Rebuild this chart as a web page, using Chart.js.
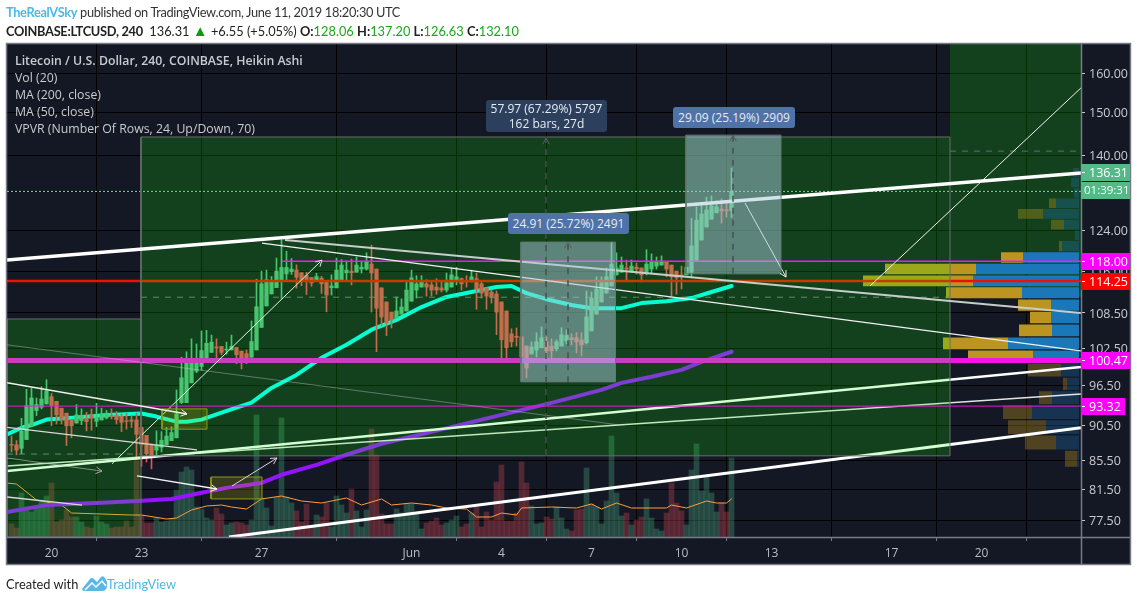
<!DOCTYPE html>
<html>
<head>
<meta charset="utf-8">
<title>LTCUSD</title>
<script src="https://cdn.jsdelivr.net/npm/chart.js@4"></script>
<style>
  html, body { margin: 0; padding: 0; background: #fff; overflow: hidden; }
  body { width: 1137px; height: 601px; position: relative; font-family: "Open Sans", sans-serif; }
  canvas { position: absolute; left: 0; top: 0; }
  .txt { position: absolute; white-space: nowrap; }
  .hd { left: 6px; font-family: Lato, sans-serif; font-size: 12.8px; color: #333; line-height: 18px; }
  .leg { left: 15px; font-size: 12.3px; color: #c8cbd0; line-height: 17px; }
  .tag { color: #e6ebf2; font-size: 12px; text-align: center; border-radius: 3px; line-height: 21px; }
  .g { color: #1aa81a; }
</style>
</head>
<body>
<canvas id="myChart" width="1137" height="601"></canvas>

<div class="txt hd" style="top:3px;letter-spacing:-0.34px"><span style="color:#4db8e8;font-weight:700">TheRealVSky</span> published on TradingView.com, June 11, 2019 18:20:30 UTC</div>
<div class="txt hd" style="top:21px;color:#222"><b style="letter-spacing:-0.3px">COINBASE:LTCUSD, 240</b>&nbsp; 136.31 <span style="color:#0a9a0a;font-size:15px">&#9650;</span> +6.55 (+5.05%) <b>O:</b><span class="g">128.06</span> <b>H:</b><span class="g">137.20</span> <b>L:</b><span class="g">126.63</span> <b>C:</b><span class="g">132.10</span></div>

<div class="txt leg" style="top:52px;font-weight:600">Litecoin / U.S. Dollar, 240, COINBASE, Heikin Ashi</div>
<div class="txt leg" style="top:69px">Vol (20)</div>
<div class="txt leg" style="top:86px">MA (200, close)</div>
<div class="txt leg" style="top:103px">MA (50, close)</div>
<div class="txt leg" style="top:120px">VPVR (Number Of Rows, 24, Up/Down, 70)</div>

<div class="txt tag" style="left:486px;top:100px;width:121px;height:31px;line-height:15px;padding-top:1px;background:#2c3f5c">57.97 (67.29%) 5797<br>162 bars, 27d</div>
<div class="txt tag" style="left:673px;top:107px;width:122px;height:21px;background:#4f72a8">29.09 (25.19%) 2909</div>
<div class="txt tag" style="left:508px;top:213px;width:121px;height:21px;background:#4f72a8">24.91 (25.72%) 2491</div>

<div class="txt hd" style="top:575px;color:#222">Created with</div>
<svg class="txt" style="left:82px;top:575px" width="25" height="17" viewBox="0 0 25 17">
  <path d="M0 14 L8 4 Q10 2 12 4 L15 7 L19 2 Q21 0 23 3 L25 7 L25 12 Q24 16 20 16 L4 16 Q0 16 0 14 Z" fill="#5bb8e6"/>
  <path d="M3 15 L10 8 L14 12 L20 6 L24 11" fill="none" stroke="#fff" stroke-width="1.5"/>
</svg>
<div class="txt hd" style="left:107px;top:575px;color:#4db8e8">TradingView</div>

<script>
// 4h bars, bar 0 = May 20 00:00
var firstBar = -8;
var opens = [87.7,87.65,87.15,88.4,90.4,92.65,93.15,93.65,
  94.75,94.05,93.0,92.25,91.3,90.8,91.15,91.5,92.05,91.05,91.25,91.55,91.9,91.9,91.8,91.15,91.25,91.25,90.15,89.0,87.75,86.9,87.3,87.65,88.25,88.65,
  93.85,93.85,96.9,98.75,99.5,100.6,101.8,102.7,102.8,102.2,102.2,102.6,102.0,101.6,101.0,102.2,106.0,109.75,111.9,113.05,114.5,115.6,116.0,116.3,115.8,115.25,114.9,114.3,114.8,114.3,113.05,
  113.0,114.3,115.8,116.1,115.9,116.5,116.5,117.45,116.5,113.0,110.45,108.65,107.65,108.3,108.85,110.6,112.6,113.15,113.75,113.55,113.15,113.0,112.6,113.15,114.3,114.7,114.3,114.1,114.7,113.75,113.0,112.25,111.9,
  110.45,108.85,104.9,104.5,104.4,102.85,101.55,102.2,102.55,103.55,102.85,102.4,102.85,103.7,104.25,104.25,103.9,103.4,105.4,108.3,110.45,112.05,113.35,115.4,115.9,116.7,116.1,116.85,116.7,115.9,116.5,117.05,117.25,117.8,117.25,116.1,115.4,115.4,115.9,118.2,122.1,124.7,126.3,127.6,128.4,128.2,128.06];
var highs = [88.9,88.25,91.5,95.9,96.05,94.55,96.3,97.4,
  95.25,94.05,93.0,92.25,91.3,93.55,92.9,92.4,92.9,93.75,93.0,92.65,92.9,92.5,92.15,92.25,91.9,92.25,90.15,89.0,87.75,89.65,89.55,90.15,90.25,95.8,
  101.0,101.9,104.05,103.2,105.4,105.5,104.7,104.05,102.8,103.5,104.7,102.6,102.0,102.2,107.1,114.6,116.1,116.3,115.1,118.6,122.1,119.9,118.5,117.3,115.8,115.9,114.9,115.7,115.1,114.3,115.4,
  118.6,118.3,118.0,118.4,118.8,118.0,119.6,121.1,116.5,113.0,110.45,108.65,111.35,111.0,114.1,116.3,115.25,115.25,114.5,114.1,114.7,114.1,115.75,116.7,116.85,114.85,115.25,116.3,115.75,114.1,113.0,112.6,112.45,
  110.45,108.85,105.75,105.9,104.4,102.85,103.55,105.1,106.1,104.4,104.05,103.9,105.95,105.6,104.9,105.1,105.1,112.45,112.25,115.05,115.05,116.7,121.7,119.6,118.8,118.2,118.2,117.65,116.7,120.2,119.4,118.8,119.0,117.8,117.25,116.1,117.05,116.85,126.5,128.85,129.3,130.9,131.15,130.1,130.5,129.7,137.2];
var lows = [86.65,86.25,86.4,88.4,90.25,91.9,92.9,93.65,
  90.4,90.65,90.65,87.55,88.65,90.8,90.55,89.65,89.75,90.25,91.25,91.4,91.4,90.65,89.55,89.9,90.15,85.65,84.65,85.25,84.3,86.25,86.65,87.65,88.25,88.65,
  93.7,93.85,96.9,98.5,98.9,100.6,101.8,100.6,101.4,101.5,102.2,99.95,99.1,99.95,101.0,102.2,106.0,109.75,111.9,113.05,111.1,114.5,115.5,112.95,113.4,111.8,113.3,114.3,112.0,108.7,111.7,
  113.0,114.3,114.3,113.55,115.9,115.75,116.3,108.65,101.9,106.25,104.6,105.9,107.65,108.3,108.85,110.6,111.15,113.15,111.5,111.5,111.85,112.25,112.25,113.15,113.55,112.6,113.15,114.1,109.15,111.15,109.15,110.25,104.75,
  100.9,100.9,102.7,102.85,97.4,97.7,101.55,101.05,102.55,100.9,100.9,102.05,102.85,103.2,103.05,101.7,101.2,103.2,105.4,108.3,110.45,112.05,113.35,115.4,115.9,114.3,115.9,115.55,114.1,115.4,115.75,116.5,117.25,115.05,111.5,111.85,112.8,115.4,114.85,118.2,122.1,124.7,126.3,127.6,125.5,126.7,126.63];
var closes = [87.6,86.9,89.65,93.4,94.55,93.55,94.4,95.65,
  93.4,92.0,91.3,90.4,90.4,92.0,91.9,91.0,91.5,91.55,92.05,92.25,91.75,91.3,90.9,91.05,91.05,89.15,87.65,86.4,86.15,87.65,88.3,88.9,89.4,92.15,
  97.7,100.05,100.8,100.4,102.1,103.3,103.5,102.5,101.8,102.35,102.8,101.4,100.85,100.8,103.6,109.6,113.75,114.5,114.3,116.1,116.8,116.8,116.5,114.95,114.5,114.4,113.9,115.1,113.75,111.7,113.35,
  116.3,117.25,116.3,115.8,117.25,116.85,117.8,115.75,109.35,107.8,106.8,107.3,108.85,109.55,112.6,114.85,113.75,114.1,113.15,112.6,112.6,112.6,113.95,115.4,115.05,113.75,114.1,115.05,112.8,112.05,111.5,111.35,108.65,
  103.9,102.55,103.55,104.3,101.05,99.25,102.7,103.55,104.25,102.05,102.05,103.55,104.75,104.6,103.9,103.55,103.05,107.8,111.15,112.8,113.95,115.05,117.45,116.7,117.25,116.5,117.05,116.5,115.4,117.45,117.8,117.8,118.0,116.5,115.05,114.85,115.05,116.85,120.95,126.1,127.35,128.2,129.05,128.85,128.0,128.0,132.1];
var volumes = [13,9,44,30,25,31,37,41,
  54,15,17,27,20,20,15,10,9,21,15,13,9,10,10,16,10,78,22,14,14,19,15,16,18,47,
  65,70,67,30,28,19,17,29,23,12,14,15,14,12,17,122,39,29,11,40,119,40,34,26,15,33,10,22,20,34,10,41,32,24,48,26,10,27,108,82,
  23,13,13,28,24,33,33,23,8,14,16,19,12,14,17,21,10,13,24,30,10,25,17,55,72,16,16,24,75,54,31,13,14,20,18,30,19,8,6,27,28,69,33,30,13,36,101,44,21,24,12,17,20,38,19,8,6,24,54,34,26,12,67,93,46,60,44,25,34,25,79];

var ma50Bars = [-9,-6,-4,-1,2,5,11,18,21,25,27,30,34,40,44,49,54,59,64,69,74,79,84,89,92,95,99,104,108,114,118,123,128,132,136];
var ma50 = [89.1,90.1,90.5,91.3,91.45,91.6,92.0,92.2,91.75,91.0,91.0,91.3,92.35,93.85,96.1,98.15,100.9,103.05,105.6,107.3,109.55,111.35,112.25,113.15,113.35,112.05,110.95,109.9,109.35,109.35,110.25,110.6,111.15,112.25,113.35];
var ma200Bars = [-9,-1,10,18,24,30,35,42,46,53,59,66,76,90,100,110,114,120,126,130,136];
var ma200 = [78.6,79.5,79.8,80.05,80.3,81.1,81.75,82.4,83.5,84.85,86.25,87.8,89.5,92.0,93.8,95.8,96.9,97.85,98.95,100.25,101.9];
var volMaBars = [-9,-7,-3,2,4,10,16,18,23,25,28,31,34,36,39,42,46,50,54,59,62,66,68,72,76,79,83,85,88,90,93,94,100,105,108,110,113,116,123,124,127,131,133,135,136];
var volMa = [54,53,37,32,24,23,22,22,18,19,27,31,32,30,28,38,41,36,34,39,32,38,32,34,32,29,28,20,20,24,22,29,30,29,33,28,34,29,29,32,29,36,34,34,38];

var vpHigh = [137.2,135.0,132.8,130.6,128.4,126.2,124.0,121.9,119.7,117.5,115.3,113.1,110.9,108.7,106.5,104.3,102.1,99.9,97.7,95.6,93.4,91.2,89.0,86.8];
var vpLow = [135.2,133.0,130.8,128.6,126.4,124.2,122.1,119.9,117.7,115.5,113.3,111.1,108.9,106.7,104.5,102.3,100.1,97.9,95.8,93.6,91.4,89.2,87.0,84.6];
var vpUp = [6,8,5,23,36,15,4,17,56,103,106,57,28,28,27,71,46,18,12,27,47,33,23,2];
var vpDown = [0,0,0,7,25,13,0,3,22,91,110,76,33,21,33,65,65,33,4,13,29,38,31,12];

var priceTicks = [160,150,140,132,124,116,108.5,102.5,96.5,90.5,85.5,81.5,77.5];
var timeTicks = [0,18,42,72,90,108,126,144,168,186];
var timeLabels = ['20','23','27','Jun','4','7','10','13','17','20'];

var priceMarks = [136.31,118,114.25,100.47,93.32];
var priceMarkColors = ['#53b987','#ff00ff','#ff0000','#ff00ff','#ff00ff'];

var GREEN = '#53b987', RED = '#eb4d5c', ZONE = 'rgba(14,255,3,0.18)', ZONE_EDGE = '#666e6a';
var BAR_MIN = -8.9, BAR_MAX = 205.9, P_MIN = 75.5, P_MAX = 167.7;

function barAt(i) { return firstBar + i; }

function lineSet(x0, p0, x1, p1, color, width, order, dash) {
  return { type: 'line', data: [{x: x0, y: p0}, {x: x1, y: p1}], borderColor: color, borderWidth: width,
    borderDash: dash || [], order: order, xAxisID: 'x', yAxisID: 'y' };
}

function rectSet(x0, x1, p0, p1, fill, edge, edgeWidth, order, axis) {
  return { type: 'line', fill: 'shape', backgroundColor: fill, borderColor: edge || 'rgba(0,0,0,0)', borderWidth: edgeWidth || 0,
    data: [{x: x0, y: p0}, {x: x1, y: p0}, {x: x1, y: p1}, {x: x0, y: p1}, {x: x0, y: p0}],
    order: order, xAxisID: axis || 'x', yAxisID: 'y' };
}

function curveSet(bars, vals, color, width, order, yAxis) {
  return { type: 'line', data: bars.map(function(b, i) { return {x: b, y: vals[i]}; }), borderColor: color, borderWidth: width,
    borderJoinStyle: 'round', borderCapStyle: 'round', order: order, xAxisID: 'x', yAxisID: yAxis || 'y' };
}

var datasets = [];

// background zone on the right sits under the volume profile
datasets.push(rectSet(179.7, BAR_MAX, 111.35, P_MAX, ZONE, null, 0, 100));

// volume
datasets.push({ type: 'bar', yAxisID: 'y2', xAxisID: 'x', order: 90, grouped: false, barThickness: 5, borderWidth: 0,
  data: volumes.map(function(v, i) { return {x: barAt(i), y: v}; }),
  backgroundColor: volumes.map(function(v, i) { return closes[i] >= opens[i] ? 'rgba(83,185,135,0.3)' : 'rgba(235,77,92,0.3)'; }) });
datasets.push(curveSet(volMaBars, volMa, '#ff9a3c', 1, 88, 'y2'));

datasets.push(curveSet(ma200Bars, ma200, '#9613ff', 4, 85));
datasets.push(curveSet(ma50Bars, ma50, '#00ffff', 4, 84));

// heikin ashi candles
var candleColors = closes.map(function(c, i) { return c >= opens[i] ? GREEN : RED; });
datasets.push({ type: 'bar', yAxisID: 'y', xAxisID: 'x', order: 83, grouped: false, barThickness: 1, borderWidth: 0,
  data: highs.map(function(h, i) { return {x: barAt(i), y: [lows[i], h]}; }), backgroundColor: candleColors });
datasets.push({ type: 'bar', yAxisID: 'y', xAxisID: 'x', order: 82, grouped: false, barThickness: 3.6, borderWidth: 0,
  data: opens.map(function(o, i) { return {x: barAt(i), y: [o, closes[i]]}; }), backgroundColor: candleColors });

// volume profile, measured from the right edge
vpUp.forEach(function(u, i) {
  var dim = i < 8 || i > 16;
  datasets.push(rectSet(0, u, vpLow[i], vpHigh[i], dim ? 'rgba(30,120,190,0.3)' : '#1a78b9', null, 0, 80, 'xv'));
  if (vpDown[i] > 0) {
    datasets.push(rectSet(u, u + vpDown[i], vpLow[i], vpHigh[i], dim ? 'rgba(220,170,30,0.3)' : '#bb9520', null, 0, 80, 'xv'));
  }
});

// levels
datasets.push(lineSet(BAR_MIN, 114.25, BAR_MAX, 114.25, '#f01000', 2.5, 78));
datasets.push(lineSet(BAR_MIN, 100.47, BAR_MAX, 100.47, '#f412ea', 5, 78));
datasets.push(lineSet(BAR_MIN, 132.1, BAR_MAX, 132.1, '#7fdcae', 1, 78, [2, 2]));
datasets.push(lineSet(17.9, 111.3, 179.7, 111.3, 'rgba(130,130,145,0.85)', 1, 78, [6, 6]));
datasets.push(lineSet(BAR_MIN, 86.35, 17.9, 86.35, 'rgba(130,130,145,0.85)', 1, 78, [6, 6]));
datasets.push(lineSet(179.7, 141, BAR_MAX, 141, 'rgba(130,130,145,0.7)', 1, 78, [6, 6]));

// rising channel lines, under the zones
datasets.push(lineSet(BAR_MIN, 84, BAR_MAX, 99.4, '#fff', 2.5, 75));
datasets.push(lineSet(BAR_MIN, 84.7, BAR_MAX, 95.15, '#e4e4e4', 1.5, 75));
datasets.push(lineSet(35.5, P_MIN, BAR_MAX, 90.1, '#fff', 3, 75));
datasets.push(lineSet(12.1, 85, 54.1, 118.2, '#fff', 1, 75));

// zones
datasets.push(rectSet(17.9, 179.7, 86.1, 144.26, ZONE, ZONE_EDGE, 1, 70));
datasets.push(rectSet(BAR_MIN, 17.9, P_MIN, 107.45, ZONE, ZONE_EDGE, 1, 70));

// small highlight boxes
datasets.push(rectSet(22.1, 31.1, 89.9, 92.9, 'rgba(200,200,0,0.2)', '#8c9a12', 1, 65));
datasets.push(rectSet(31.9, 42.1, 80.3, 83.2, 'rgba(200,200,0,0.2)', '#8c9a12', 1, 65));

// thin levels stay bright on top of the zones
datasets.push(lineSet(46.1, 118, BAR_MAX, 118, '#ff10ff', 1.5, 60));
datasets.push(lineSet(BAR_MIN, 93.32, BAR_MAX, 93.32, '#e818d8', 1, 60));

// trend lines on top of the zones
datasets.push(lineSet(BAR_MIN, 118.2, BAR_MAX, 136.1, '#fff', 3.5, 50));
datasets.push(lineSet(46.7, 122.1, BAR_MAX, 108.5, '#c9cdc9', 2, 50));
datasets.push(lineSet(42.1, 121.5, BAR_MAX, 102.05, '#f0f0f0', 1.3, 50));
datasets.push(lineSet(BAR_MIN, 96.9, 27.1, 92.15, '#f0f0f0', 1.5, 50));
datasets.push(lineSet(BAR_MIN, 90.15, 29.1, 86.95, '#d8d8d8', 1.3, 50));
datasets.push(lineSet(BAR_MIN, 103.05, 113.7, 90.5, 'rgba(210,210,210,0.4)', 1, 50));
datasets.push(lineSet(BAR_MIN, 85.8, 10.1, 84, 'rgba(200,200,200,0.6)', 1, 50));
datasets.push(lineSet(BAR_MIN, 80.55, 6.1, 79.5, '#d8d8d8', 1.3, 50));
datasets.push(lineSet(17.1, 83.35, 33.1, 81.6, '#f4f4f4', 1.3, 50));
datasets.push(lineSet(36.1, 82, 45.1, 85.8, '#d8d8d8', 1, 50));
datasets.push(lineSet(163.7, 113.35, BAR_MAX, 156.2, '#f0f0f0', 1, 50));
datasets.push(lineSet(138.7, 129.65, 146.9, 115, '#f0f0f0', 1, 50));

// price range boxes and their dashed guides
datasets.push(rectSet(93.9, 112.8, 97.05, 121.7, 'rgba(167,200,216,0.5)', '#62786f', 1, 40));
datasets.push(rectSet(126.9, 145.9, 115.6, 144.7, 'rgba(167,200,216,0.5)', '#62786f', 1, 40));
datasets.push(lineSet(98.9, 86.2, 98.9, 144, 'rgba(70,80,80,0.75)', 2, 35, [6, 6]));
datasets.push(lineSet(103.3, 97, 103.3, 121.7, 'rgba(70,80,80,0.75)', 2, 35, [6, 6]));
datasets.push(lineSet(136.3, 115.6, 136.3, 144.7, 'rgba(70,80,80,0.75)', 2, 35, [6, 6]));

// arrow heads: from bar, from price, tip bar, tip price, color
var arrows = [
  [98.9, 130, 98.9, 144, '#555f5c'], [103.3, 115, 103.3, 121.7, '#555f5c'], [136.3, 130, 136.3, 144.7, '#555f5c'],
  [12.1, 85, 54.1, 118.2, '#dfeadf'], [17.1, 83.35, 33.1, 81.6, '#f4f4f4'], [36.1, 82, 45.1, 85.8, '#d8d8d8'],
  [BAR_MIN, 85.8, 10.1, 84, '#a8a8a8'], [BAR_MIN, 96.9, 27.1, 92.15, '#f0f0f0'], [138.7, 129.65, 146.9, 115, '#f0f0f0']
];

var frame = {
  id: 'frame',
  beforeDraw: function(c) {
    var g = c.ctx;
    g.save();
    g.fillStyle = '#141824';
    g.fillRect(7, 44, 1123, 520);
    g.restore();
  },
  afterDatasetsDraw: function(c) {
    var g = c.ctx, xs = c.scales.x, ys = c.scales.y;
    g.save();
    g.lineWidth = 1;
    arrows.forEach(function(a) {
      var x0 = xs.getPixelForValue(a[0]), y0 = ys.getPixelForValue(a[1]);
      var x1 = xs.getPixelForValue(a[2]), y1 = ys.getPixelForValue(a[3]);
      var ang = Math.atan2(y1 - y0, x1 - x0);
      g.strokeStyle = a[4];
      g.beginPath();
      g.moveTo(x1 - 7 * Math.cos(ang - 0.5), y1 - 7 * Math.sin(ang - 0.5));
      g.lineTo(x1, y1);
      g.lineTo(x1 - 7 * Math.cos(ang + 0.5), y1 - 7 * Math.sin(ang + 0.5));
      g.stroke();
    });
    g.restore();
  },
  afterDraw: function(c) {
    var g = c.ctx, ys = c.scales.y, area = c.chartArea;
    g.save();
    g.strokeStyle = '#787b86';
    g.lineWidth = 1.5;
    g.strokeRect(6.5, 43.5, 1124, 521);
    g.beginPath();
    g.moveTo(area.right + 0.5, 44); g.lineTo(area.right + 0.5, 564);
    g.moveTo(7, area.bottom + 0.5); g.lineTo(1130, area.bottom + 0.5);
    g.stroke();

    g.font = '12.5px "Open Sans"';
    g.textBaseline = 'middle';
    priceMarks.forEach(function(p, i) {
      var y = Math.round(ys.getPixelForValue(p));
      g.fillStyle = priceMarkColors[i];
      g.fillRect(1081, y - 8, i === 4 ? 44 : 49, 17);
      g.fillStyle = '#fff';
      g.fillRect(1082, y, 3, 1);
      g.fillText(p.toFixed(2), 1089, y + 1);
    });
    // countdown under the last price
    var yc = Math.round(ys.getPixelForValue(priceMarks[0]));
    g.fillStyle = GREEN;
    g.fillRect(1081, yc + 10, 49, 17);
    g.fillStyle = '#fff';
    g.font = '11.5px "Open Sans"';
    g.fillText('01:39:31', 1084, yc + 19);
    g.restore();
  }
};

new Chart(document.getElementById('myChart'), {
  type: 'line',
  data: { datasets: datasets },
  plugins: [frame],
  options: {
    responsive: false,
    animation: false,
    events: [],
    layout: { padding: { left: 7, top: 44, right: 7, bottom: 37 } },
    elements: { point: { radius: 0 }, line: { tension: 0, borderCapStyle: 'butt' } },
    plugins: { legend: { display: false }, tooltip: { enabled: false }, title: { display: false } },
    scales: {
      x: {
        type: 'linear', position: 'bottom', min: BAR_MIN, max: BAR_MAX, bounds: 'data', offset: false,
        grid: { color: '#000', lineWidth: 1, tickColor: '#787b86', tickLength: 4 },
        border: { display: false },
        afterBuildTicks: function(s) { s.ticks = timeTicks.map(function(v) { return {value: v}; }); },
        afterFit: function(s) { s.height = 27; },
        ticks: { autoSkip: false, maxRotation: 0, color: '#b9bcc4', padding: 5, font: { family: 'Open Sans', size: 12 },
          callback: function(v) { return timeLabels[timeTicks.indexOf(v)]; } }
      },
      y: {
        type: 'logarithmic', position: 'right', min: P_MIN, max: P_MAX, bounds: 'data',
        grid: { color: '#000', lineWidth: 1, tickColor: '#c8cbd0', tickLength: 4 },
        border: { display: false },
        afterBuildTicks: function(s) { s.ticks = priceTicks.map(function(v) { return {value: v}; }); },
        afterFit: function(s) { s.width = 49; },
        ticks: { autoSkip: false, color: '#c8cbd0', padding: 4, labelOffset: 1, font: { family: 'Open Sans', size: 12.5 },
          callback: function(v) { return Number(v).toFixed(2); } }
      },
      y2: { type: 'linear', display: false, min: 0, max: 493 },
      xv: { type: 'linear', axis: 'x', display: false, reverse: true, min: -2, max: 1072 }
    }
  }
});
</script>
</body>
</html>
